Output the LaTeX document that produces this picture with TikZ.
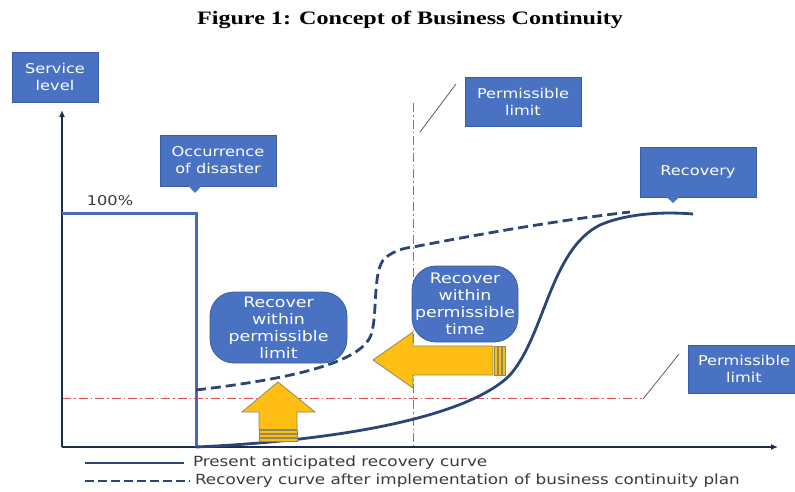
\documentclass[tikz,border=0pt]{standalone}
\usepackage{fontspec}
\usetikzlibrary{arrows.meta}
\setmainfont{DejaVu Sans}[FakeStretch=1.2]
\newfontfamily\titlefont{Liberation Serif}[FakeStretch=1.27]
\begin{document}
\begin{tikzpicture}[x=1pt,y=-1pt,
  every node/.style={inner sep=0pt, outer sep=0pt},
  labelbox/.style={fill=boxblue, draw=boxedge, line width=0.6pt, text=white,
    font=\fontsize{13.5}{17}\selectfont, align=center, minimum width=116pt, minimum height=50pt},
  bubble/.style={fill=boxblue, draw=boxedge, line width=0.8pt, rounded corners=24pt, text=white,
    font=\fontsize{14.5}{17}\selectfont, align=center},
  axisline/.style={draw=axisnavy, line width=2.2pt},
  levelline/.style={draw=levelblue, line width=3pt},
  limitline/.style={draw=limitred, line width=1.1pt, dash pattern=on 9pt off 3pt on 1.5pt off 3pt},
  leader/.style={draw=gray!70!black, line width=0.8pt},
  curve/.style={draw=curvenavy, line width=2.8pt},
  curvedash/.style={curve, dash pattern=on 10pt off 5pt},
  bigarrow/.style={fill=arrowyellow, draw=arrowedge, line width=0.8pt, line join=miter},
  legendtext/.style={text=legendgray, font=\fontsize{14}{16}\selectfont, anchor=west}
]
\definecolor{boxblue}{HTML}{4A72C2}
\definecolor{boxedge}{HTML}{3A5EA6}
\definecolor{axisnavy}{HTML}{1F2B4D}
\definecolor{levelblue}{HTML}{4A68B8}
\definecolor{curvenavy}{HTML}{2C4577}
\definecolor{limitred}{HTML}{E05050}
\definecolor{arrowyellow}{HTML}{FFBE14}
\definecolor{arrowedge}{HTML}{8F8A5E}
\definecolor{legendgray}{HTML}{3A3A3A}

\useasboundingbox (0,0) rectangle (795,491);
\clip (0,0) rectangle (795,491);

% title
\node[font=\titlefont\bfseries\fontsize{19}{22}\selectfont] (title) at (410,20) {Figure 1: Concept of Business Continuity};

% permissible-limit guide lines
\coordinate (vtop) at (413.5,103);
\coordinate (vbot) at (413.5,447);
\coordinate (hleft) at (62,398.5);
\coordinate (hright) at (642,398.5);
\draw[limitline] (vtop) -- (vbot);
\draw[limitline] (hleft) -- (hright);

% axes
\coordinate (origin) at (62,447);
\coordinate (ytip) at (62,110);
\coordinate (xtip) at (778,447);
\draw[axisline, -{Latex[length=7pt,width=6pt]}] (origin) -- (ytip);
\draw[axisline, -{Latex[length=7pt,width=6pt]}] (origin) -- (xtip);

% normal service level and drop at the disaster
\coordinate (lvlA) at (62,213);
\coordinate (lvlB) at (196,213);
\coordinate (lvlC) at (196,447);
\draw[levelline, line join=miter] (lvlA) -- (lvlB) -- (lvlC);
\node[font=\fontsize{13.5}{16}\selectfont, text=legendgray] (pct) at (110,201) {100\%};

% recovery curves
\coordinate (solidEnd) at (693,214);
\draw[curve] (lvlC) .. controls (350,440) and (470,415) .. (510,375)
  .. controls (545,335) and (550,250) .. (600,225)
  .. controls (630,212) and (670,212) .. (solidEnd);
\coordinate (dashStart) at (196,390);
\coordinate (dashEnd) at (630,212);
\draw[curvedash] (dashStart) .. controls (280,380) and (360,365) .. (371,335)
  .. controls (378,315) and (372,270) .. (385,258)
  .. controls (395,250) and (405,248) .. (413,247)
  .. controls (480,234) and (560,220) .. (dashEnd);

% labels
\node[labelbox, minimum width=86pt, minimum height=50pt] (svc) at (55,77) {Service\\level};
\node[labelbox, minimum height=51pt] (occ) at (218,160.5) {Occurrence\\of disaster};
\fill[boxblue] (188,185.5) -- (202,185.5) -- (195,193) -- cycle;
\node[labelbox, minimum height=49pt] (plt) at (523,101.5) {Permissible\\limit};
\node[labelbox] (rec) at (698,172) {Recovery};
\fill[boxblue] (666,196.5) -- (680,196.5) -- (673,203) -- cycle;
\node[labelbox, minimum width=112pt, minimum height=48pt] (plb) at (744,369) {Permissible\\limit};

% leader lines to the limit labels
\coordinate (ldTopA) at (420,132);
\coordinate (ldTopB) at (456,84);
\draw[leader] (ldTopA) -- (ldTopB);
\coordinate (ldBotA) at (643,399);
\coordinate (ldBotB) at (679,354);
\draw[leader] (ldBotA) -- (ldBotB);

% rounded annotation bubbles
\node[bubble, minimum width=137pt, minimum height=71pt] (limitBubble) at (278.5,327.5) {Recover\\within\\permissible\\limit};
\node[bubble, minimum width=106pt, minimum height=76pt] (timeBubble) at (465,304) {Recover\\within\\permissible\\time};

% horizontal arrow: shorter recovery time
\draw[bigarrow] (373,360) -- (413,332) -- (413,346) -- (493,346) -- (493,375)
  -- (413,375) -- (413,388) -- cycle;
\foreach \sx in {494.5,498.5,502.5}
  \draw[bigarrow, line width=0.6pt] (\sx,346) rectangle ++(3,29);

% vertical arrow: smaller drop in service level
\draw[bigarrow] (278,382) -- (315,412) -- (297,412) -- (297,429.5) -- (259,429.5)
  -- (259,412) -- (242,412) -- cycle;
\foreach \sy in {430.5,434.5,438.5}
  \draw[bigarrow, line width=0.6pt] (259,\sy) rectangle ++(38,3);

% legend
\coordinate (lgA1) at (85,463);
\coordinate (lgA2) at (184,463);
\coordinate (lgB1) at (85,481);
\coordinate (lgB2) at (190,481);
\draw[curvenavy, line width=2.2pt] (lgA1) -- (lgA2);
\draw[curvenavy, line width=2.2pt, dash pattern=on 9pt off 4pt] (lgB1) -- (lgB2);
\node[legendtext] (lgTextA) at (193,463) {Present anticipated recovery curve};
\node[legendtext] (lgTextB) at (195,481) {Recovery curve after implementation of business continuity plan};
\end{tikzpicture}
\end{document}
